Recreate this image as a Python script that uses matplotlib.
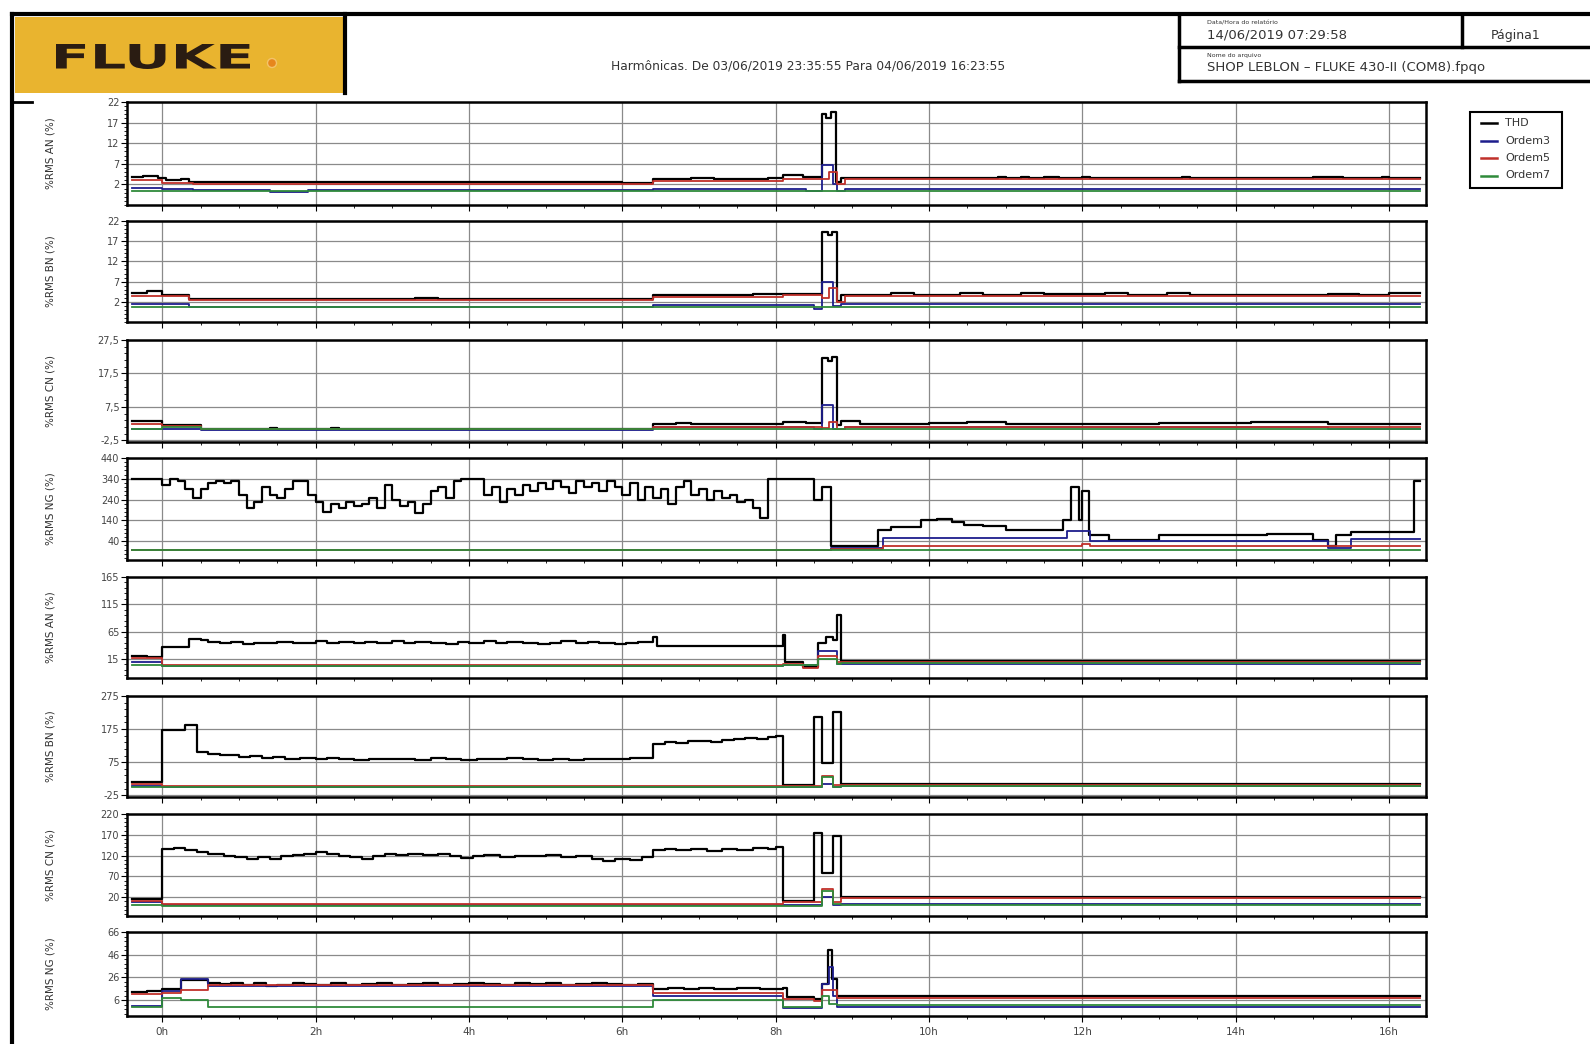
"""
Fluke 430-II harmonics report page, redrawn with matplotlib.
Eight stacked panels: voltage harmonics (AN/BN/CN/NG) and current harmonics (AN/BN/CN/NG).
"""
import numpy as np
import matplotlib.pyplot as plt
from matplotlib.ticker import FixedLocator, NullFormatter
from matplotlib.patches import Rectangle, PathPatch, Circle
from matplotlib.textpath import TextPath
from matplotlib.font_manager import FontProperties
from matplotlib.transforms import Affine2D

T_END = 16.4
HOURS = [0, 2, 4, 6, 8, 10, 12, 14, 16]
HOUR_LABELS = ["0h", "2h", "4h", "6h", "8h", "10h", "12h", "14h", "16h"]
SERIES = ["THD", "Ordem3", "Ordem5", "Ordem7"]
COLORS = ["#000000", "#1d1d8c", "#c0302a", "#2f8a3a"]
YLABELS = ["%RMS AN (%)", "%RMS BN (%)", "%RMS CN (%)", "%RMS NG (%)",
           "%RMS AN (%)", "%RMS BN (%)", "%RMS CN (%)", "%RMS NG (%)"]

# y ticks per panel (top tick = top of the axis)
YT1 = [2, 7, 12, 17, 22]
YT2 = [2, 7, 12, 17, 22]
YT3 = [-2.5, 7.5, 17.5, 27.5]
YT4 = [40, 140, 240, 340, 440]
YT5 = [15, 65, 115, 165]
YT6 = [-25, 75, 175, 275]
YT7 = [20, 70, 120, 170, 220]
YT8 = [6, 26, 46, 66]
YMIN = [-3, -3, -3, -50, -20, -30, -25, -8]

# ---- panel 1: voltage AN ----
P1_THD = [(-0.4, 3.8), (-0.25, 4.0), (-0.05, 3.6), (0.05, 3.0), (0.25, 3.2), (0.35, 2.5),
          (1.5, 2.6), (2.3, 2.7), (3.0, 2.5), (4.0, 2.6), (4.5, 2.7), (5.2, 2.5), (6.0, 2.4),
          (6.4, 3.2), (6.9, 3.6), (7.2, 3.3), (7.9, 3.5), (8.1, 4.2), (8.35, 3.8),
          (8.6, 19.0), (8.65, 18.2), (8.72, 19.5), (8.78, 2.5), (8.85, 3.6), (10.9, 3.9),
          (11.0, 3.6), (11.2, 3.9), (11.3, 3.6), (11.5, 3.8), (11.7, 3.6), (12.0, 3.8),
          (12.1, 3.6), (13.3, 3.9), (13.4, 3.6), (15.0, 3.8), (15.4, 3.6), (15.9, 3.8),
          (16.0, 3.6)]
P1_O3 = [(-0.4, 1.2), (0.0, 0.9), (0.4, 0.6), (1.4, 0.2), (1.9, 0.6), (6.4, 0.8), (8.1, 1.0),
         (8.4, 0.5), (8.6, 6.8), (8.75, 2.0), (8.8, 0.5), (8.9, 0.8)]
P1_O5 = [(-0.4, 3.0), (0.0, 2.4), (0.4, 2.2), (6.4, 2.9), (8.1, 3.4), (8.6, 3.2), (8.7, 5.0),
         (8.8, 2.0), (8.9, 3.2)]
P1_O7 = [(-0.4, 0.4)]

# ---- panel 2: voltage BN ----
P2_THD = [(-0.4, 4.2), (-0.2, 4.6), (0.0, 3.8), (0.35, 2.6), (1.2, 2.8), (1.4, 2.6), (2.2, 2.8),
          (2.3, 2.6), (3.3, 2.9), (3.6, 2.6), (4.9, 2.8), (5.0, 2.6), (5.9, 2.8), (6.1, 2.6),
          (6.4, 3.8), (7.5, 3.6), (7.7, 3.9), (8.1, 4.0), (8.6, 19.2), (8.68, 18.5),
          (8.74, 19.4), (8.8, 2.3), (8.85, 3.8), (9.5, 4.2), (9.8, 3.8), (10.4, 4.1),
          (10.7, 3.8), (11.2, 4.2), (11.5, 3.9), (12.3, 4.2), (12.6, 3.8), (13.1, 4.1),
          (13.4, 3.8), (15.2, 4.0), (15.6, 3.7), (16.0, 4.1)]
P2_O3 = [(-0.4, 1.5), (0.35, 0.8), (6.4, 1.3), (8.5, 0.2), (8.6, 7.0), (8.75, 1.0), (8.85, 1.5)]
P2_O5 = [(-0.4, 3.4), (0.35, 2.4), (6.4, 3.2), (8.1, 3.6), (8.6, 3.0), (8.7, 5.5), (8.8, 2.0),
         (8.9, 3.4)]
P2_O7 = [(-0.4, 0.6)]

# ---- panel 3: voltage CN ----
P3_THD = [(-0.4, 3.2), (0.0, 2.2), (0.5, 1.0), (1.4, 1.3), (1.5, 1.0), (2.2, 1.2), (2.3, 0.9),
          (6.4, 2.4), (6.7, 2.6), (6.9, 2.4), (8.1, 3.0), (8.4, 2.6), (8.6, 22.0), (8.68, 21.2),
          (8.74, 22.5), (8.8, 2.0), (8.85, 3.2), (9.1, 2.4), (10.0, 2.8), (10.5, 3.0),
          (11.0, 2.5), (13.0, 2.7), (14.2, 3.0), (15.2, 2.5)]
P3_O3 = [(-0.4, 1.0), (0.5, 0.6), (6.4, 1.5), (8.5, 0.8), (8.6, 8.0), (8.75, 1.0), (8.9, 1.6),
         (15.2, 1.0)]
P3_O5 = [(-0.4, 2.3), (0.0, 1.8), (0.5, 0.8), (6.4, 1.4), (8.6, 1.2), (8.7, 3.0), (8.8, 1.0),
         (8.9, 1.5)]
P3_O7 = [(-0.4, 0.8), (0.0, 1.6), (0.5, 0.8)]

# ---- panel 4: voltage NG (early part read every 6 min) ----
P4_THD_EARLY = [340, 340, 340, 340, 310, 340, 330, 290, 250, 290,
                320, 330, 320, 330, 260, 200, 230, 300, 260, 250,
                290, 330, 330, 260, 230, 180, 220, 200, 230, 210,
                220, 250, 200, 310, 240, 210, 230, 175, 220, 280,
                300, 250, 330, 340, 340, 340, 260, 300, 230, 290,
                260, 310, 280, 320, 290, 330, 300, 270, 330, 300,
                320, 280, 330, 300, 260, 320, 240, 300, 250, 290,
                220, 300, 330, 260, 290, 240, 280, 250, 260, 230,
                240, 200, 150, 340, 340, 340, 340, 340, 340, 240,
                300]
P4_THD_LATE = [(8.72, 15), (9.33, 92), (9.5, 108), (9.9, 140), (10.1, 148), (10.3, 132),
               (10.45, 120), (10.7, 115), (11.0, 92), (11.75, 140), (11.85, 300), (11.95, 140),
               (12.0, 280), (12.08, 70), (12.35, 45), (12.8, 48), (13.0, 70), (14.4, 75),
               (15.0, 45), (15.2, 15), (15.3, 70), (15.5, 85), (16.33, 330)]
P4_O3 = [(-0.4, 0), (8.72, 10), (9.4, 55), (11.8, 90), (12.1, 40), (15.2, 10), (15.5, 50)]
P4_O5 = [(-0.4, 0), (8.72, 3), (9.4, 18), (12.0, 25), (12.1, 15)]
P4_O7 = [(-0.4, 0)]

# ---- panel 5: current AN ----
P5_THD = [(-0.4, 20), (-0.2, 18), (0.0, 36), (0.35, 52), (0.5, 50), (0.6, 46), (0.75, 44),
          (0.9, 46), (1.05, 43), (1.2, 45), (1.35, 44), (1.5, 46), (1.7, 44), (1.85, 45),
          (2.0, 47), (2.15, 45), (2.3, 46), (2.5, 44), (2.65, 46), (2.8, 45), (3.0, 47),
          (3.15, 44), (3.3, 46), (3.5, 45), (3.7, 43), (3.85, 46), (4.0, 45), (4.2, 47),
          (4.35, 44), (4.5, 46), (4.7, 45), (4.9, 43), (5.05, 45), (5.2, 47), (5.4, 44),
          (5.55, 46), (5.7, 44), (5.9, 42), (6.05, 44), (6.2, 46), (6.4, 55), (6.45, 38),
          (8.1, 58), (8.12, 10), (8.35, 0), (8.55, 45), (8.65, 55), (8.75, 50), (8.8, 95),
          (8.85, 12)]
P5_O3 = [(-0.4, 10), (0.0, 2), (8.1, 4), (8.55, 30), (8.8, 6), (8.85, 6)]
P5_O5 = [(-0.4, 16), (0.0, 4), (8.1, 6), (8.35, -2), (8.55, 20), (8.8, 10), (8.85, 10)]
P5_O7 = [(-0.4, 4), (0.0, 2), (8.1, 3), (8.55, 15), (8.8, 5), (8.85, 8)]

# ---- panel 6: current BN ----
P6_THD = [(-0.4, 15), (0.0, 172), (0.3, 188), (0.45, 105), (0.6, 100), (0.75, 96), (0.9, 98),
          (1.0, 92), (1.15, 94), (1.3, 88), (1.45, 90), (1.6, 85), (1.8, 87), (2.0, 84),
          (2.15, 88), (2.3, 85), (2.5, 83), (2.7, 86), (2.9, 84), (3.1, 86), (3.3, 83),
          (3.5, 87), (3.7, 85), (3.9, 82), (4.1, 86), (4.3, 84), (4.5, 87), (4.7, 84),
          (4.9, 82), (5.1, 85), (5.3, 83), (5.5, 86), (5.7, 84), (5.9, 86), (6.1, 88),
          (6.4, 130), (6.55, 136), (6.7, 132), (6.85, 138), (7.0, 140), (7.15, 136),
          (7.3, 142), (7.45, 145), (7.6, 148), (7.75, 146), (7.9, 152), (8.0, 155), (8.1, 5),
          (8.5, 212), (8.6, 72), (8.75, 228), (8.85, 8)]
P6_O3 = [(-0.4, 3), (0.0, 0), (8.6, 10), (8.75, 0), (8.85, 2)]
P6_O5 = [(-0.4, 8), (0.0, 3), (8.1, 2), (8.6, 33), (8.75, 5), (8.85, 6)]
P6_O7 = [(-0.4, 0), (8.6, 30), (8.75, 0), (8.85, 2)]

# ---- panel 7: current CN ----
P7_THD = [(-0.4, 16), (0.0, 135), (0.15, 138), (0.3, 134), (0.45, 128), (0.6, 124), (0.8, 120),
          (0.95, 116), (1.1, 113), (1.25, 116), (1.4, 112), (1.55, 118), (1.7, 122), (1.85, 125),
          (2.0, 128), (2.15, 124), (2.3, 120), (2.45, 116), (2.6, 112), (2.75, 120), (2.9, 124),
          (3.05, 122), (3.2, 125), (3.4, 122), (3.6, 124), (3.75, 118), (3.9, 114), (4.05, 118),
          (4.2, 121), (4.4, 117), (4.6, 120), (4.8, 118), (5.0, 121), (5.2, 116), (5.4, 118),
          (5.6, 112), (5.75, 108), (5.9, 112), (6.1, 110), (6.25, 116), (6.4, 134),
          (6.55, 137), (6.7, 133), (6.9, 136), (7.1, 132), (7.3, 136), (7.5, 134), (7.7, 138),
          (7.9, 136), (8.0, 141), (8.1, 12), (8.5, 175), (8.6, 78), (8.75, 168), (8.85, 20)]
P7_O3 = [(-0.4, 8), (0.0, 2), (8.6, 20), (8.75, 2), (8.85, 5)]
P7_O5 = [(-0.4, 12), (0.0, 4), (8.1, 8), (8.6, 40), (8.75, 8), (8.85, 19)]
P7_O7 = [(-0.4, 2), (0.0, 0), (8.6, 35), (8.75, 3), (8.85, 2)]

# ---- panel 8: current NG ----
P8_THD = [(-0.4, 13), (-0.2, 14), (0.0, 16), (0.25, 24), (0.6, 21), (0.75, 20), (0.9, 21),
          (1.05, 19), (1.2, 21), (1.35, 18), (1.5, 19), (1.7, 21), (1.85, 20), (2.0, 19),
          (2.2, 21), (2.4, 19), (2.6, 20), (2.8, 21), (3.0, 19), (3.2, 20), (3.4, 21),
          (3.6, 19), (3.8, 20), (4.0, 21), (4.2, 20), (4.4, 19), (4.6, 21), (4.8, 20),
          (5.0, 21), (5.2, 19), (5.4, 20), (5.6, 21), (5.8, 20), (6.0, 19), (6.2, 20),
          (6.4, 16), (6.6, 17), (6.8, 16), (7.0, 17), (7.2, 16), (7.5, 17), (7.8, 16),
          (8.1, 17), (8.15, 9), (8.5, 7), (8.6, 20), (8.68, 50), (8.73, 25), (8.8, 10)]
P8_O3 = [(-0.4, 1), (0.0, 14), (0.25, 25), (0.6, 18), (6.4, 10), (8.1, -1), (8.6, 20),
         (8.7, 35), (8.75, 10), (8.8, 0)]
P8_O5 = [(-0.4, 11), (0.0, 12), (0.25, 15), (0.6, 19), (6.4, 12), (8.1, 7), (8.5, 5),
         (8.6, 15), (8.8, 8)]
P8_O7 = [(-0.4, 0), (0.0, 8), (0.25, 6), (0.6, 0), (6.4, 6), (8.1, 0), (8.6, 10), (8.7, 3),
         (8.8, 2)]

# panel top/bottom edges in page pixels
PANEL_PX = [(102, 205), (221, 322), (340, 442), (458, 560),
            (577, 678), (696, 797), (814, 916), (932, 1016)]
AX_LEFT, AX_RIGHT = 127, 1426
W, H = 1590, 1044


def step_xy(points):
    ts = [p[0] for p in points] + [T_END]
    vs = [p[1] for p in points] + [points[-1][1]]
    return ts, vs


def fmt(v):
    return ("%g" % v).replace(".", ",")


p4_early = list(zip(np.round(np.arange(len(P4_THD_EARLY)) * 0.1 - 0.4, 2), P4_THD_EARLY))
panels = [
    (YT1, [P1_THD, P1_O3, P1_O5, P1_O7]),
    (YT2, [P2_THD, P2_O3, P2_O5, P2_O7]),
    (YT3, [P3_THD, P3_O3, P3_O5, P3_O7]),
    (YT4, [p4_early + P4_THD_LATE, P4_O3, P4_O5, P4_O7]),
    (YT5, [P5_THD, P5_O3, P5_O5, P5_O7]),
    (YT6, [P6_THD, P6_O3, P6_O5, P6_O7]),
    (YT7, [P7_THD, P7_O3, P7_O5, P7_O7]),
    (YT8, [P8_THD, P8_O3, P8_O5, P8_O7]),
]

fig = plt.figure(figsize=(15.9, 10.44), dpi=100)

# page furniture drawn in pixel coordinates
bg = fig.add_axes([0, 0, 1, 1])
bg.set_xlim(0, W)
bg.set_ylim(H, 0)
bg.axis("off")

bg.add_patch(Rectangle((15, 17), 330, 76, facecolor="#e9b42f", edgecolor="none"))
bg.plot([12, W], [14, 14], color="k", lw=3)
bg.plot([12, 12], [14, H], color="k", lw=3)
bg.plot([345, 345], [14, 93], color="k", lw=3)
bg.plot([12, 32], [102, 102], color="k", lw=2)

tp = TextPath((0, 0), "FLUKE", size=1, prop=FontProperties(family="DejaVu Sans", weight="bold"))
bb = tp.get_extents()
tr = Affine2D().translate(-bb.x0, -bb.y0).scale(194 / bb.width, -25 / bb.height).translate(56, 69)
bg.add_patch(PathPatch(tr.transform_path(tp), facecolor="#2a1c12", edgecolor="none"))
bg.add_patch(Circle((272, 63), 4.5, facecolor="#e7861c", edgecolor="#f3c46a", lw=1))

bg.text(808, 66, "Harmônicas. De 03/06/2019 23:35:55 Para 04/06/2019 16:23:55",
        ha="center", va="center", fontsize=8.8, color="#333333")

# report box, top right
bg.plot([1179, 1179], [14, 81], color="k", lw=2.5)
bg.plot([1179, W], [81, 81], color="k", lw=2.5)
bg.plot([1179, W], [47, 47], color="k", lw=2.5)
bg.plot([1462, 1462], [14, 47], color="k", lw=2.5)
bg.text(1207, 23, "Data/Hora do relatório", fontsize=4.5, va="center", color="#333333")
bg.text(1207, 35, "14/06/2019 07:29:58", fontsize=9.5, va="center", color="#333333")
bg.text(1516, 35, "Página1", fontsize=9, ha="center", va="center", color="#333333")
bg.text(1207, 56, "Nome do arquivo", fontsize=4.5, va="center", color="#333333")
bg.text(1207, 68, "SHOP LEBLON – FLUKE 430-II (COM8).fpqo", fontsize=9.5, va="center",
        color="#333333")

# legend box
bg.add_patch(Rectangle((1470, 112), 92, 76, facecolor="white", edgecolor="k", lw=1.5))
for i, (name, col) in enumerate(zip(SERIES, COLORS)):
    y = 123 + i * 17.5
    bg.plot([1481, 1497], [y, y], color=col, lw=1.8)
    bg.text(1505, y, name, fontsize=8, va="center", color="#333333")

for i, ((yt, series), (top, bot)) in enumerate(zip(panels, PANEL_PX)):
    ax = fig.add_axes([AX_LEFT / W, 1 - bot / H, (AX_RIGHT - AX_LEFT) / W, (bot - top) / H])
    for pts, col in zip(series, COLORS):
        ts, vs = step_xy(pts)
        ax.step(ts, vs, where="post", color=col, lw=1.6 if col == "#000000" else 1.3)
    ax.set_xlim(-0.46, 16.48)
    ax.set_ylim(YMIN[i], yt[-1])
    ax.yaxis.set_major_locator(FixedLocator(yt))
    ax.set_yticklabels([fmt(v) for v in yt])
    step = (yt[1] - yt[0]) / 5
    ax.yaxis.set_minor_locator(FixedLocator(np.arange(yt[0] - 5 * step, yt[-1] + step / 2, step)))
    ax.xaxis.set_major_locator(FixedLocator(HOURS))
    ax.xaxis.set_minor_locator(FixedLocator(np.arange(-0.5, 16.6, 0.5)))
    ax.grid(True, which="major", color="#8a8a8a", lw=0.9)
    ax.tick_params(which="major", direction="out", length=4, width=0.8, labelsize=7,
                   labelcolor="#444444", pad=1.5)
    ax.tick_params(which="minor", direction="out", length=2.5, width=0.6)
    for sp in ax.spines.values():
        sp.set_linewidth(1.8)
    ax.set_ylabel(YLABELS[i], fontsize=7.5, color="#333333")
    ax.yaxis.set_label_coords(-0.055, 0.5)
    if i < 7:
        ax.xaxis.set_major_formatter(NullFormatter())
    else:
        ax.set_xticklabels(HOUR_LABELS)
        ax.tick_params(axis="x", labelsize=7.5, pad=4)
    ax.set_axisbelow(True)

fig.savefig("out.png", dpi=100)
